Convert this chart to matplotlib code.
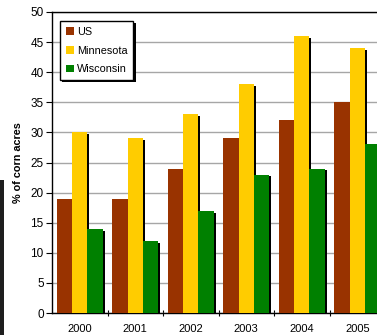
import matplotlib
matplotlib.use("Agg")
import matplotlib.pyplot as plt
import matplotlib.patheffects as pe
from matplotlib.patches import Patch, Rectangle
import numpy as np

years = ["2000", "2001", "2002", "2003", "2004", "2005"]
us = [19, 19, 24, 29, 32, 35]
minnesota = [30, 29, 33, 38, 46, 44]
wisconsin = [14, 12, 17, 23, 24, 28]
series_names = ["US", "Minnesota", "Wisconsin"]
colors = ["#993300", "#FFCC00", "#008000"]
yticks = list(range(0, 55, 5))

plt.rcParams['font.family'] = ['Liberation Sans', 'DejaVu Sans']

W, H = 377, 335
fig = plt.figure(figsize=(W / 100, H / 100), dpi=100)
ax = fig.add_axes([52 / W, (H - 313) / H, (385 - 52) / W, (313 - 12) / H])

x = np.arange(len(years))
bw = 0.276
shadow = [pe.SimplePatchShadow(offset=(1.4, -1.4), shadow_rgbFace='black', alpha=1.0), pe.Normal()]
for i, (vals, c) in enumerate(zip([us, minnesota, wisconsin], colors)):
    ax.bar(x + (i - 1) * bw, vals, width=bw, color=c, edgecolor='none',
           zorder=3, path_effects=shadow)

ax.set_xlim(-0.5, len(years) - 0.5)
ax.set_ylim(0, 50)
ax.set_yticks(yticks)
ax.set_xticks(x)
ax.set_xticklabels(years)
ax.set_xticks(np.arange(0.5, len(years) - 0.5, 1), minor=True)
ax.tick_params(axis='x', which='major', length=0, pad=8, labelsize=8)
ax.tick_params(axis='x', which='minor', length=4, width=0.8, direction='inout')
ax.tick_params(axis='y', length=4, width=0.8, direction='out', labelsize=8.5, pad=2)

ax.grid(axis='y', color='#a6a6a6', linewidth=1.0, zorder=0)
ax.set_axisbelow(True)
for s in ['left', 'bottom', 'top']:
    ax.spines[s].set_color('black')
    ax.spines[s].set_linewidth(1.0)
ax.spines['right'].set_visible(False)

ax.set_ylabel("% of corn acres", fontsize=7.8, fontweight='bold', labelpad=5)

handles = [Patch(facecolor=c, edgecolor='none', label=n) for n, c in zip(series_names, colors)]
leg = fig.legend(handles=handles, loc='upper left', bbox_to_anchor=(60 / W, 1 - 21 / H),
                 borderaxespad=0, fontsize=7.8, frameon=True, fancybox=False,
                 edgecolor='black', framealpha=1, handlelength=0.75, handleheight=0.75,
                 handletextpad=0.25, labelspacing=0.8, borderpad=0.55)
leg.get_frame().set_linewidth(1.0)
leg.get_frame().set_path_effects([pe.SimplePatchShadow(offset=(1.6, -1.6), shadow_rgbFace='black', alpha=1.0),
                                  pe.Normal()])

fig.patches.append(Rectangle((0, 0), 4 / W, (335 - 180) / H, transform=fig.transFigure,
                             facecolor='#1e1e1e', edgecolor='none', zorder=0))

fig.savefig("out.png", dpi=100)
